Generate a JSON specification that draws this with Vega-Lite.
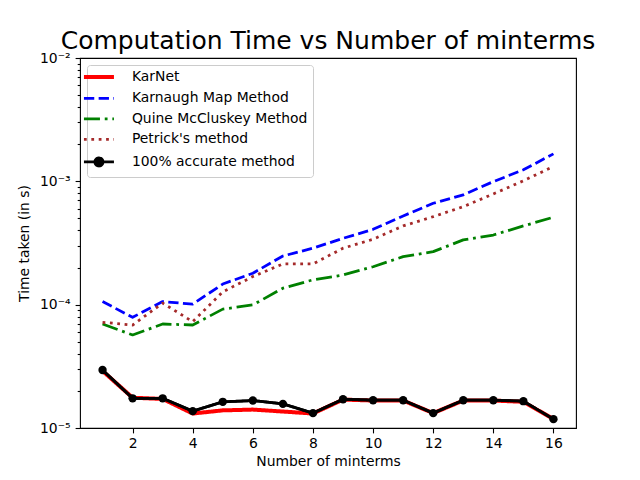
{
  "$schema": "https://vega.github.io/schema/vega-lite/v6.json",
  "width": 496,
  "height": 370,
  "autosize": {"type": "none"},
  "padding": {"left": 80, "top": 58, "right": 64, "bottom": 52},
  "background": "white",
  "title": {
    "text": "Computation Time vs Number of minterms",
    "font": "DejaVu Sans",
    "fontSize": 25,
    "fontWeight": "normal",
    "color": "black",
    "anchor": "middle",
    "offset": -3
  },
  "config": {
    "font": "DejaVu Sans",
    "view": {"stroke": "black", "strokeWidth": 1.1},
    "axis": {
      "domain": false,
      "grid": false,
      "tickColor": "black",
      "tickWidth": 1.1,
      "labelColor": "black",
      "labelFont": "DejaVu Sans",
      "labelFontSize": 13.9,
      "titleFont": "DejaVu Sans",
      "titleFontSize": 13.9,
      "titleFontWeight": "normal",
      "titleColor": "black"
    },
    "legend": {
      "labelFont": "DejaVu Sans",
      "labelFontSize": 13.9,
      "labelColor": "black",
      "labelLimit": 400
    }
  },
  "datasets": {
    "timings": [
      {"n": 1, "method": "KarNet", "t": 2.9e-5},
      {"n": 2, "method": "KarNet", "t": 1.76e-5},
      {"n": 3, "method": "KarNet", "t": 1.72e-5},
      {"n": 4, "method": "KarNet", "t": 1.31e-5},
      {"n": 5, "method": "KarNet", "t": 1.39e-5},
      {"n": 6, "method": "KarNet", "t": 1.41e-5},
      {"n": 7, "method": "KarNet", "t": 1.36e-5},
      {"n": 8, "method": "KarNet", "t": 1.31e-5},
      {"n": 9, "method": "KarNet", "t": 1.70e-5},
      {"n": 10, "method": "KarNet", "t": 1.67e-5},
      {"n": 11, "method": "KarNet", "t": 1.67e-5},
      {"n": 12, "method": "KarNet", "t": 1.32e-5},
      {"n": 13, "method": "KarNet", "t": 1.67e-5},
      {"n": 14, "method": "KarNet", "t": 1.67e-5},
      {"n": 15, "method": "KarNet", "t": 1.63e-5},
      {"n": 16, "method": "KarNet", "t": 1.18e-5},

      {"n": 1, "method": "Karnaugh Map Method", "t": 1.06e-4},
      {"n": 2, "method": "Karnaugh Map Method", "t": 7.9e-5},
      {"n": 3, "method": "Karnaugh Map Method", "t": 1.06e-4},
      {"n": 4, "method": "Karnaugh Map Method", "t": 1.01e-4},
      {"n": 5, "method": "Karnaugh Map Method", "t": 1.47e-4},
      {"n": 6, "method": "Karnaugh Map Method", "t": 1.80e-4},
      {"n": 7, "method": "Karnaugh Map Method", "t": 2.48e-4},
      {"n": 8, "method": "Karnaugh Map Method", "t": 2.87e-4},
      {"n": 9, "method": "Karnaugh Map Method", "t": 3.45e-4},
      {"n": 10, "method": "Karnaugh Map Method", "t": 4.08e-4},
      {"n": 11, "method": "Karnaugh Map Method", "t": 5.24e-4},
      {"n": 12, "method": "Karnaugh Map Method", "t": 6.64e-4},
      {"n": 13, "method": "Karnaugh Map Method", "t": 7.76e-4},
      {"n": 14, "method": "Karnaugh Map Method", "t": 9.95e-4},
      {"n": 15, "method": "Karnaugh Map Method", "t": 1.24e-3},
      {"n": 16, "method": "Karnaugh Map Method", "t": 1.67e-3},

      {"n": 1, "method": "Quine McCluskey Method", "t": 6.97e-5},
      {"n": 2, "method": "Quine McCluskey Method", "t": 5.68e-5},
      {"n": 3, "method": "Quine McCluskey Method", "t": 6.97e-5},
      {"n": 4, "method": "Quine McCluskey Method", "t": 6.84e-5},
      {"n": 5, "method": "Quine McCluskey Method", "t": 9.2e-5},
      {"n": 6, "method": "Quine McCluskey Method", "t": 9.95e-5},
      {"n": 7, "method": "Quine McCluskey Method", "t": 1.36e-4},
      {"n": 8, "method": "Quine McCluskey Method", "t": 1.59e-4},
      {"n": 9, "method": "Quine McCluskey Method", "t": 1.74e-4},
      {"n": 10, "method": "Quine McCluskey Method", "t": 2.03e-4},
      {"n": 11, "method": "Quine McCluskey Method", "t": 2.45e-4},
      {"n": 12, "method": "Quine McCluskey Method", "t": 2.69e-4},
      {"n": 13, "method": "Quine McCluskey Method", "t": 3.35e-4},
      {"n": 14, "method": "Quine McCluskey Method", "t": 3.67e-4},
      {"n": 15, "method": "Quine McCluskey Method", "t": 4.35e-4},
      {"n": 16, "method": "Quine McCluskey Method", "t": 5.12e-4},

      {"n": 1, "method": "Petrick's method", "t": 7.2e-5},
      {"n": 2, "method": "Petrick's method", "t": 6.84e-5},
      {"n": 3, "method": "Petrick's method", "t": 1.03e-4},
      {"n": 4, "method": "Petrick's method", "t": 7.28e-5},
      {"n": 5, "method": "Petrick's method", "t": 1.27e-4},
      {"n": 6, "method": "Petrick's method", "t": 1.69e-4},
      {"n": 7, "method": "Petrick's method", "t": 2.14e-4},
      {"n": 8, "method": "Petrick's method", "t": 2.14e-4},
      {"n": 9, "method": "Petrick's method", "t": 2.87e-4},
      {"n": 10, "method": "Petrick's method", "t": 3.39e-4},
      {"n": 11, "method": "Petrick's method", "t": 4.35e-4},
      {"n": 12, "method": "Petrick's method", "t": 5.17e-4},
      {"n": 13, "method": "Petrick's method", "t": 6.23e-4},
      {"n": 14, "method": "Petrick's method", "t": 7.9e-4},
      {"n": 15, "method": "Petrick's method", "t": 1.01e-3},
      {"n": 16, "method": "Petrick's method", "t": 1.32e-3},

      {"n": 1, "method": "100% accurate method", "t": 2.95e-5},
      {"n": 2, "method": "100% accurate method", "t": 1.74e-5},
      {"n": 3, "method": "100% accurate method", "t": 1.74e-5},
      {"n": 4, "method": "100% accurate method", "t": 1.37e-5},
      {"n": 5, "method": "100% accurate method", "t": 1.63e-5},
      {"n": 6, "method": "100% accurate method", "t": 1.67e-5},
      {"n": 7, "method": "100% accurate method", "t": 1.57e-5},
      {"n": 8, "method": "100% accurate method", "t": 1.32e-5},
      {"n": 9, "method": "100% accurate method", "t": 1.71e-5},
      {"n": 10, "method": "100% accurate method", "t": 1.68e-5},
      {"n": 11, "method": "100% accurate method", "t": 1.68e-5},
      {"n": 12, "method": "100% accurate method", "t": 1.32e-5},
      {"n": 13, "method": "100% accurate method", "t": 1.68e-5},
      {"n": 14, "method": "100% accurate method", "t": 1.68e-5},
      {"n": 15, "method": "100% accurate method", "t": 1.65e-5},
      {"n": 16, "method": "100% accurate method", "t": 1.18e-5}
    ]
  },
  "data": {"name": "timings"},
  "encoding": {
    "x": {
      "field": "n",
      "type": "quantitative",
      "scale": {"domain": [0.25, 16.75], "nice": false, "zero": false},
      "axis": {
        "title": "Number of minterms",
        "values": [2, 4, 6, 8, 10, 12, 14, 16],
        "tickSize": 4.9,
        "labelPadding": 3.5,
        "titlePadding": 4
      }
    },
    "y": {
      "field": "t",
      "type": "quantitative",
      "scale": {"type": "log", "domain": [1e-5, 1e-2], "nice": false},
      "axis": {
        "title": "Time taken (in s)",
        "values": [1e-5, 2e-5, 3e-5, 4e-5, 5e-5, 6e-5, 7e-5, 8e-5, 9e-5,
                   1e-4, 2e-4, 3e-4, 4e-4, 5e-4, 6e-4, 7e-4, 8e-4, 9e-4,
                   1e-3, 2e-3, 3e-3, 4e-3, 5e-3, 6e-3, 7e-3, 8e-3, 9e-3, 1e-2],
        "tickSize": {
          "condition": {"test": "datum.value == 1e-5 || datum.value == 1e-4 || datum.value == 1e-3 || datum.value == 1e-2", "value": 4.9},
          "value": 2.8
        },
        "labelExpr": "datum.value == 1e-5 ? '10⁻⁵' : datum.value == 1e-4 ? '10⁻⁴' : datum.value == 1e-3 ? '10⁻³' : datum.value == 1e-2 ? '10⁻²' : ''",
        "labelPadding": 5,
        "labelBaseline": "middle",
        "titlePadding": 8
      }
    }
  },
  "layer": [
    {
      "mark": {"type": "line", "strokeCap": "butt", "strokeJoin": "round"},
      "encoding": {
        "color": {
          "field": "method",
          "type": "nominal",
          "scale": {
            "domain": ["KarNet", "Karnaugh Map Method", "Quine McCluskey Method", "Petrick's method", "100% accurate method"],
            "range": ["#ff0000", "#0000ff", "#008000", "#a52a2a", "#000000"]
          },
          "legend": {
            "title": null,
            "orient": "top-left",
            "offset": 7,
            "padding": 5,
            "fillColor": "rgba(255,255,255,0.8)",
            "strokeColor": "#cccccc",
            "cornerRadius": 3,
            "symbolType": "stroke",
            "symbolSize": 900,
            "symbolStrokeWidth": 2.78,
            "labelOffset": 26,
            "rowPadding": 5.5,
            "encode": {
              "symbols": {
                "update": {
                  "shape": {"signal": "datum.value === '100% accurate method' ? 'M-1,0L1,0M-0.27,0A0.27,0.27,0,1,1,0.27,0A0.27,0.27,0,1,1,-0.27,0Z' : 'stroke'"},
                  "fill": {"signal": "datum.value === '100% accurate method' ? '#000000' : 'transparent'"},
                  "strokeWidth": {"signal": "datum.value === 'KarNet' ? 4 : 2.78"}
                }
              }
            }
          }
        },
        "strokeDash": {
          "field": "method",
          "type": "nominal",
          "scale": {
            "domain": ["KarNet", "Karnaugh Map Method", "Quine McCluskey Method", "Petrick's method", "100% accurate method"],
            "range": [[1, 0], [10.3, 4.4], [16, 4.8, 2.8, 4.8], [2.78, 4.6], [1, 0]]
          }
        },
        "strokeWidth": {
          "condition": {"test": "datum.method === 'KarNet'", "value": 4},
          "value": 2.78
        }
      }
    },
    {
      "transform": [{"filter": "datum.method === '100% accurate method'"}],
      "mark": {"type": "line", "color": "#000000", "strokeWidth": 2.78, "strokeJoin": "round"},
      "encoding": {}
    },
    {
      "transform": [{"filter": "datum.method === '100% accurate method'"}],
      "mark": {"type": "point", "shape": "circle", "filled": true, "color": "#000000", "opacity": 1, "size": 70},
      "encoding": {}
    }
  ]
}
